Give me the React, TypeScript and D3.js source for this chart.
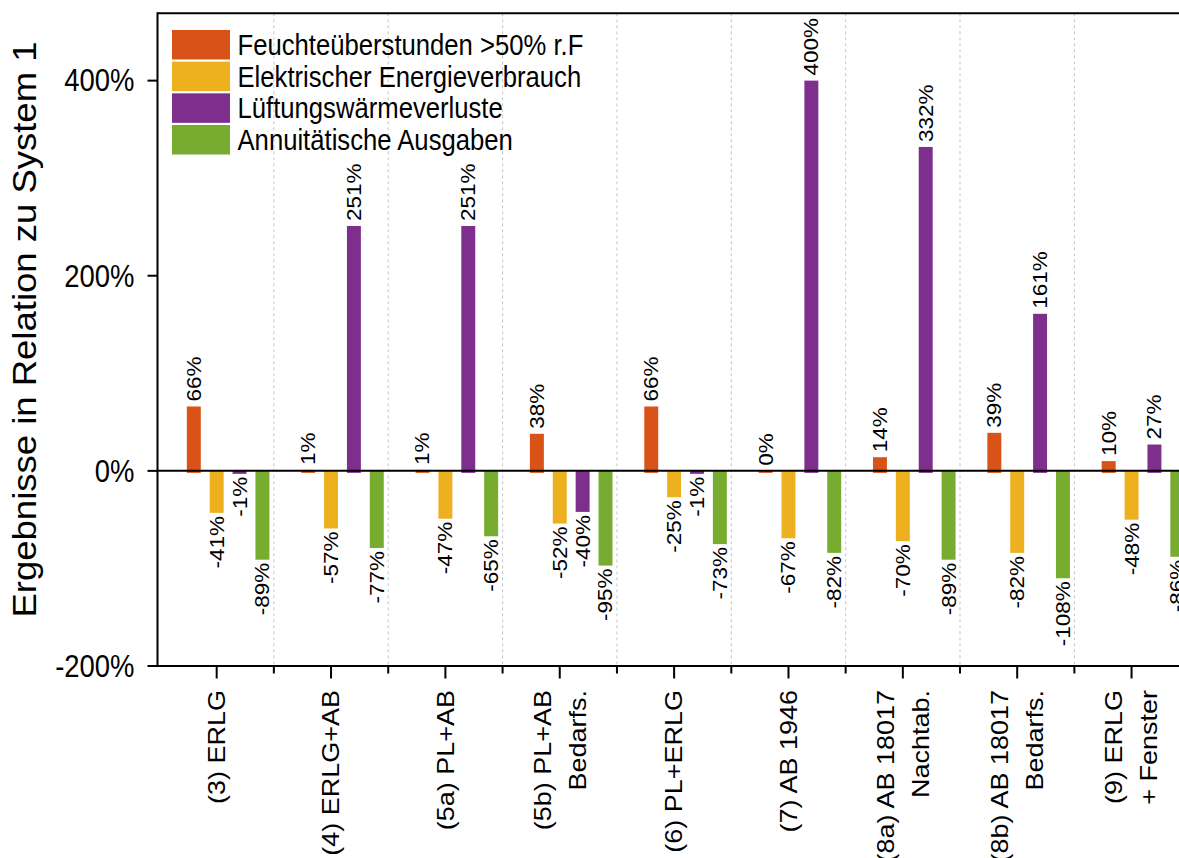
import React from "react";
import * as d3 from "d3";

const categories = [
  ["(3) ERLG"],
  ["(4) ERLG+AB"],
  ["(5a) PL+AB"],
  ["(5b) PL+AB", "Bedarfs."],
  ["(6) PL+ERLG"],
  ["(7) AB 1946"],
  ["(8a) AB 18017", "Nachtab."],
  ["(8b) AB 18017", "Bedarfs."],
  ["(9) ERLG", "+ Fenster"],
];

const seriesNames = [
  "Feuchteüberstunden >50% r.F",
  "Elektrischer Energieverbrauch",
  "Lüftungswärmeverluste",
  "Annuitätische Ausgaben",
];
const seriesColors = ["#D95319", "#EDB120", "#7E2F8E", "#77AC30"];

const feuchte = [66, 1, 1, 38, 66, 0, 14, 39, 10];
const elektrisch = [-41, -57, -47, -52, -25, -67, -70, -82, -48];
const lueftung = [-1, 251, 251, -40, -1, 400, 332, 161, 27];
const annuitaet = [-89, -77, -65, -95, -73, -82, -89, -108, -86];
const seriesValues = [feuchte, elektrisch, lueftung, annuitaet];

const yTicks = [-200, 0, 200, 400];
const yLabel = "Ergebnisse in Relation zu System 1";

const W = 1179;
const H = 858;
const SX = 0.885; // horizontal squeeze of the reference glyphs
const FONT = "'Liberation Sans', Arial, Helvetica, sans-serif";

export default function App() {
  const left = 157.5;
  const top = 13.3;
  const bottom = 666;
  const bandStart = 159.5;
  const bandW = 114.36;

  const x = d3
    .scaleBand<number>()
    .domain(d3.range(categories.length))
    .range([bandStart, bandStart + bandW * categories.length])
    .padding(0);
  // first slot is an unused (hidden) series position
  const slots = ["_hidden", ...seriesNames];
  const sub = d3.scaleBand<string>().domain(slots).range([0, x.bandwidth()]).padding(0);
  const barW = sub.bandwidth() * 0.61;

  const y = d3.scaleLinear().domain([-200, 469]).range([bottom, top]);
  const y0 = y(0);

  const tr = (tx: number, ty: number, rot: boolean) =>
    `translate(${tx},${ty}) scale(${SX},1)${rot ? " rotate(-90)" : ""}`;

  const boundaries = d3.range(1, categories.length + 1).map((i) => bandStart + i * bandW);

  return (
    <svg
      width={W}
      height={H}
      style={{ position: "absolute", left: 0, top: 0, background: "#fff" }}
      fontFamily={FONT}
    >
      <rect x={0} y={0} width={W} height={H} fill="#fff" />
      {/* grid */}
      {boundaries.map((bx, i) => (
        <line
          key={"g" + i}
          x1={bx}
          x2={bx}
          y1={top}
          y2={bottom}
          stroke="#c4c4c4"
          strokeWidth={1}
          strokeDasharray="3,3"
        />
      ))}
      {/* bars */}
      {seriesValues.map((vals, s) =>
        vals.map((v, i) => {
          const cx = (x(i) as number) + (sub(seriesNames[s]) as number) + sub.bandwidth() / 2;
          const yt = y(Math.max(v, 0));
          const yb = y(Math.min(v, 0));
          return (
            <rect
              key={`b${s}-${i}`}
              x={cx - barW / 2}
              y={yt}
              width={barW}
              height={Math.max(yb - yt, 0) + 2}
              fill={seriesColors[s]}
            />
          );
        })
      )}
      {/* value labels */}
      {seriesValues.map((vals, s) =>
        vals.map((v, i) => {
          const cx = (x(i) as number) + (sub(seriesNames[s]) as number) + sub.bandwidth() / 2;
          const pos = v >= 0;
          const ty = pos ? y(v) - 5 : y(v) + 5;
          return (
            <g key={`l${s}-${i}`} transform={tr(cx, ty, true)}>
              <text fontSize={22.5} textAnchor={pos ? "start" : "end"} dy="0.35em" fill="#000">
                {`${v}%`}
              </text>
            </g>
          );
        })
      )}
      {/* zero line */}
      <line x1={left} x2={W + 10} y1={y0} y2={y0} stroke="#000" strokeWidth={2} />
      {/* frame */}
      <line x1={left} x2={W + 10} y1={top} y2={top} stroke="#000" strokeWidth={2} />
      <line x1={left} x2={W + 10} y1={bottom} y2={bottom} stroke="#000" strokeWidth={2} />
      <line x1={left} x2={left} y1={top - 1} y2={bottom + 1} stroke="#000" strokeWidth={2} />
      {/* y ticks */}
      {yTicks.map((t) => (
        <g key={"yt" + t}>
          <line x1={left - 10} x2={left} y1={y(t)} y2={y(t)} stroke="#000" strokeWidth={2} />
          <g transform={tr(134.5, y(t), false)}>
            <text fontSize={31} textAnchor="end" dy="0.35em" fill="#000">
              {`${t}%`}
            </text>
          </g>
        </g>
      ))}
      {/* x ticks */}
      {boundaries.map((bx, i) => (
        <line key={"mt" + i} x1={bx} x2={bx} y1={bottom} y2={bottom + 7.5} stroke="#000" strokeWidth={2} />
      ))}
      {categories.map((lines, i) => {
        const cx = (x(i) as number) + x.bandwidth() / 2;
        const n = lines.length;
        return (
          <g key={"xc" + i}>
            <line x1={cx} x2={cx} y1={bottom} y2={bottom + 12.5} stroke="#000" strokeWidth={2} />
            {lines.map((ln, j) => {
              const lx = cx + (j - (n - 1) / 2) * 35;
              return (
                <g key={j} transform={tr(lx, 690, true)}>
                  <text fontSize={27} textAnchor="end" dy="0.35em" fill="#000">
                    {ln}
                  </text>
                </g>
              );
            })}
          </g>
        );
      })}
      {/* y label */}
      <g transform={tr(25, 329.5, true)}>
        <text fontSize={36.5} textAnchor="middle" dy="0.35em" fill="#000">
          {yLabel}
        </text>
      </g>
      {/* legend */}
      {seriesNames.map((name, s) => {
        const ly = 30 + s * 31.67;
        return (
          <g key={"lg" + s}>
            <rect x={172} y={ly} width={58} height={29.5} fill={seriesColors[s]} />
            <g transform={tr(237.5, ly + 14.75, false)}>
              <text fontSize={29} dy="0.35em" fill="#000">
                {name}
              </text>
            </g>
          </g>
        );
      })}
    </svg>
  );
}
